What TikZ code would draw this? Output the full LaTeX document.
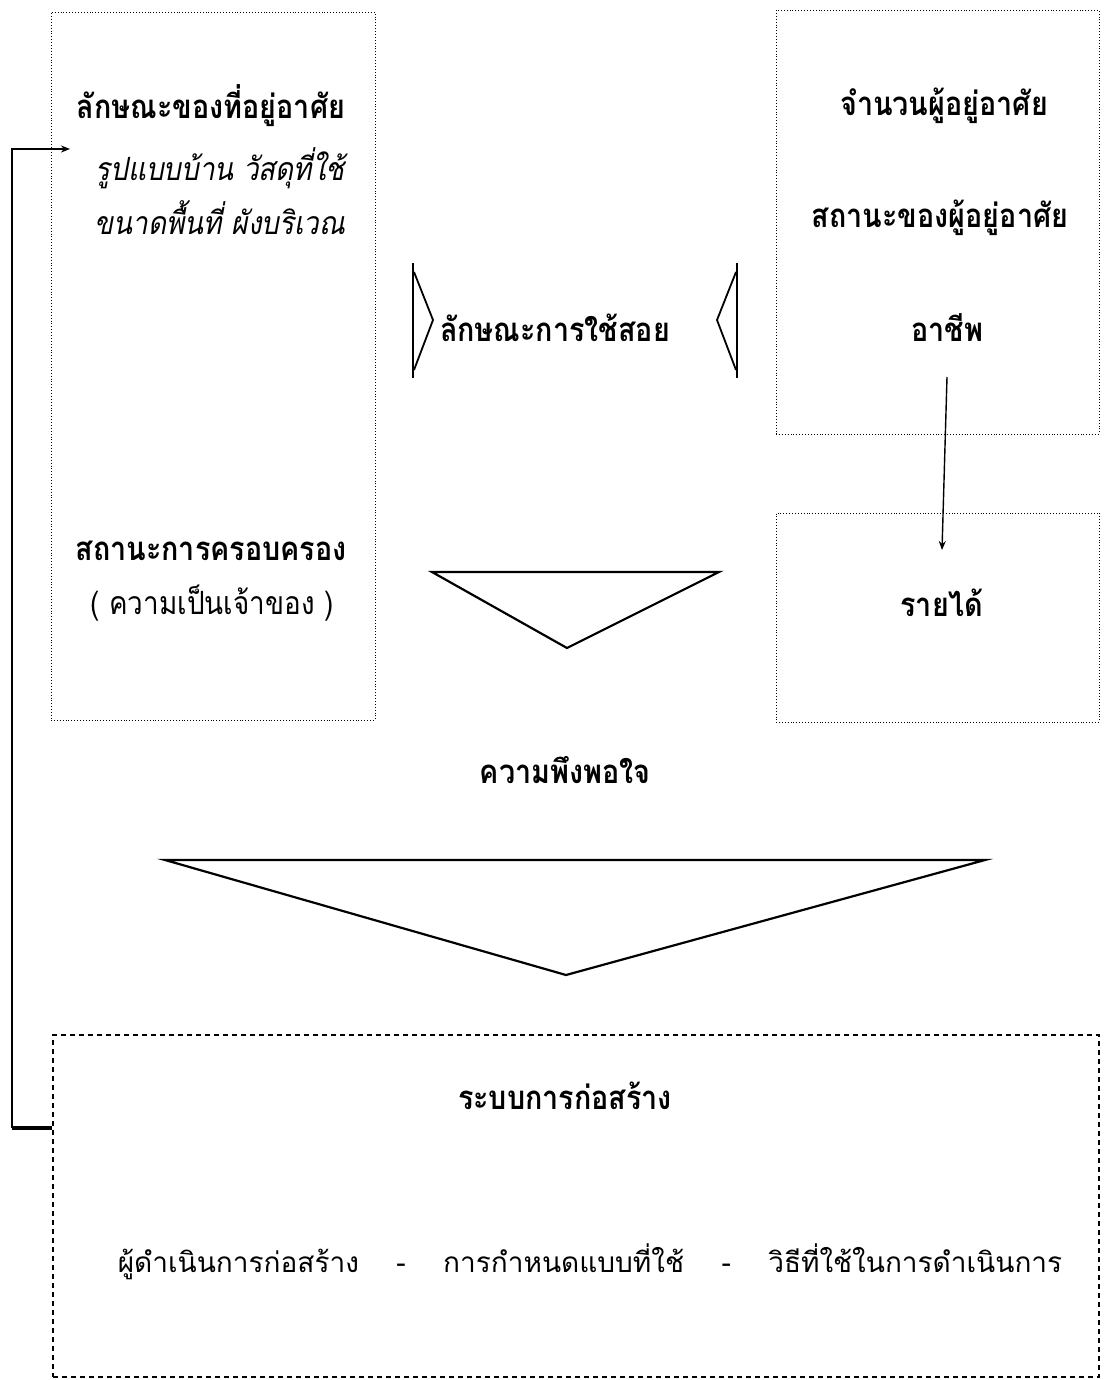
\documentclass[tikz,border=0pt]{standalone}
\usepackage{fontspec}
\newfontfamily\thai[Script=Thai]{Loma}
\newfontfamily\thaic[Script=Thai, FakeStretch=0.87]{Loma}
\usetikzlibrary{arrows.meta}
\begin{document}
\begin{tikzpicture}[x=1pt,y=-1pt,
  dotbox/.style={draw, dotted, line width=0.9pt, inner sep=0pt},
  dashbox/.style={draw, dash pattern=on 5pt off 4pt, line width=1.1pt, inner sep=0pt},
  bt/.style={font=\thaic\bfseries\fontsize{33}{38}\selectfont, inner sep=1pt},
  it/.style={font=\thaic\itshape\fontsize{32}{38}\selectfont, inner sep=1pt},
  rt/.style={font=\thaic\fontsize{32}{38}\selectfont, inner sep=1pt},
  lt/.style={font=\thai\fontsize{28}{34}\selectfont, inner sep=1pt},
  tri/.style={draw, line width=2.2pt, line join=miter},
  arr/.style={line width=1.4pt, -{Stealth[length=9pt,width=7pt]}}]
\useasboundingbox (0,0) rectangle (1106,1380);
% boxes
\node[dotbox, minimum width=324pt, minimum height=708pt] (lbox) at (213,366) {};
\node[dotbox, minimum width=323pt, minimum height=424pt] (rbox) at (937.5,222) {};
\node[dotbox, minimum width=323pt, minimum height=209pt] (ibox) at (937.5,617.5) {};
\node[dashbox, minimum width=1046pt, minimum height=342pt] (bbox) at (576,1206) {};
% left texts
\node[bt] (house) at (211,106) {ลักษณะของที่อยู่อาศัย};
\node[it] (style) at (220,168) {รูปแบบบ้าน วัสดุที่ใช้};
\node[it] (size) at (220,218) {ขนาดพื้นที่ ผังบริเวณ};
\node[bt] (tenure) at (211,551) {สถานะการครอบครอง};
\node[rt] (owner) at (212,603) {( ความเป็นเจ้าของ )};
% right texts
\node[bt] (num) at (944,106) {จำนวนผู้อยู่อาศัย};
\node[bt] (status) at (940,218) {สถานะของผู้อยู่อาศัย};
\node[bt] (occ) at (947,328) {อาชีพ};
\node[bt] (income) at (942,603) {รายได้};
% middle
\node[bt] (use) at (555,328) {ลักษณะการใช้สอย};
\node[bt] (sat) at (565,770) {ความพึงพอใจ};
\node[bt] (sys) at (565,1096) {ระบบการก่อสร้าง};
\node[lt] (items) at (590,1262) {ผู้ดำเนินการก่อสร้าง \quad - \quad การกำหนดแบบที่ใช้ \quad - \quad วิธีที่ใช้ในการดำเนินการ};
% brackets
\draw[line width=2.6pt] (413,263) -- (413,378);
\draw[line width=1.8pt] (414,272) -- (433,320) -- (414,370);
\draw[line width=2.6pt] (737,263) -- (737,378);
\draw[line width=1.8pt] (736,272) -- (717,320) -- (736,370);
% triangles
\draw[tri] (432,572) -- (719,572) -- (567,648) -- cycle;
\draw[tri] (165,860) -- (985,860) -- (566,975) -- cycle;
% occupation -> income
\draw[arr] (occ.south |- 0,377) -- (income.north |- 0,550);
% feedback
\coordinate (fbend) at (70,149);
\draw[line width=3.2pt] ([yshift=78pt]bbox.west) -- ++(-40,0) coordinate (fbcorner);
\draw[arr, line width=2pt] (fbcorner) |- (fbend);
\end{tikzpicture}
\end{document}
